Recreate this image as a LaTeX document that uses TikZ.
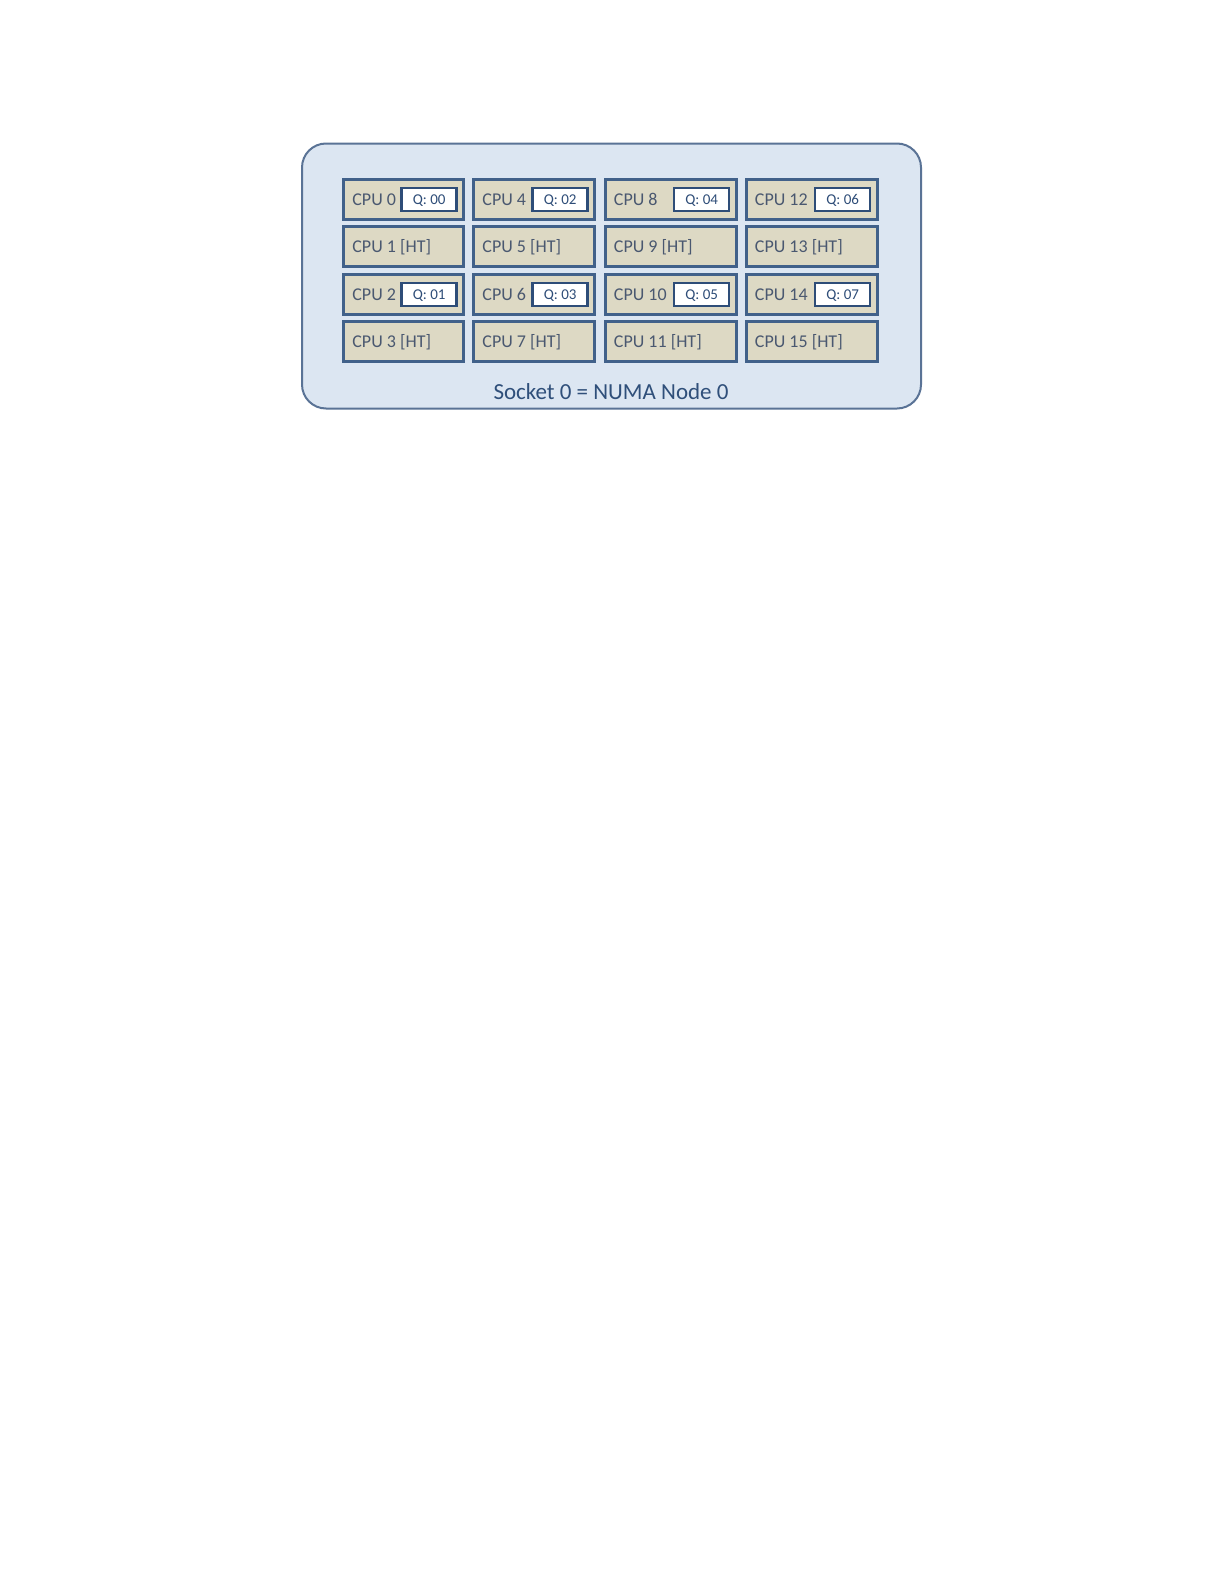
\documentclass[tikz,border=0pt]{standalone}
\usepackage{fontspec}
\setmainfont{Carlito}
\definecolor{socketfill}{HTML}{DCE6F2}
\definecolor{socketline}{HTML}{5A7396}
\definecolor{cpufill}{HTML}{DDD9C4}
\definecolor{cpuline}{HTML}{41618A}
\definecolor{cputext}{HTML}{4A5870}
\definecolor{qline}{HTML}{2E4D78}
\definecolor{labeltext}{HTML}{2F4F7A}
\tikzset{
    cpubox/.style={draw=cpuline,line width=1.5pt,fill=cpufill,minimum height=20pt,inner sep=0pt},
    qbox/.style={draw=qline,line width=1.2pt,fill=white,minimum width=27.5pt,minimum height=11.5pt,
        inner sep=0pt,text height=4.8pt,text depth=0pt,font=\fontsize{7.5}{8}\selectfont,text=qline},
    cpulabel/.style={font=\fontsize{9}{10}\selectfont,text=cputext,inner sep=0pt,text height=5.8pt,text depth=0pt}
}
\begin{document}
\begin{tikzpicture}[x=0.5pt,y=-0.5pt]
    \useasboundingbox[fill=white] (0,0) rectangle (1224,1584);
    \draw[socketline,fill=socketfill,line width=1pt,rounded corners=12pt] (302,143.5) rectangle (921,408.5);
    \node[anchor=base,font=\fontsize{11.5}{13}\selectfont,text=labeltext,inner sep=0pt] (socket) at (611,399) {Socket 0 = NUMA Node 0};
    % columns: left edge / width in px
    \foreach \c/\xl/\w in {0/342/120, 1/472/121, 2/603.5/131, 3/744.5/131} {
        \foreach \r in {0,1,2,3} {
            \pgfmathtruncatemacro{\n}{4*\c+\r}
            \pgfmathsetmacro{\yc}{199.5+47.4*\r}
            \node[cpubox,minimum width=\w*0.5pt,anchor=west] (cpu\n) at (\xl,\yc) {};
            \ifodd\r
                \node[cpulabel,anchor=west] at ([xshift=5pt]cpu\n.west) {CPU \n{} [HT]};
            \else
                \pgfmathtruncatemacro{\q}{2*\c+\r/2}
                \node[cpulabel,anchor=west] at ([xshift=5pt]cpu\n.west) {CPU \n};
                \node[qbox,anchor=east] (q\q) at ([xshift=-3.6pt]cpu\n.east) {Q: 0\q};
            \fi
        }
    }
\end{tikzpicture}
\end{document}
